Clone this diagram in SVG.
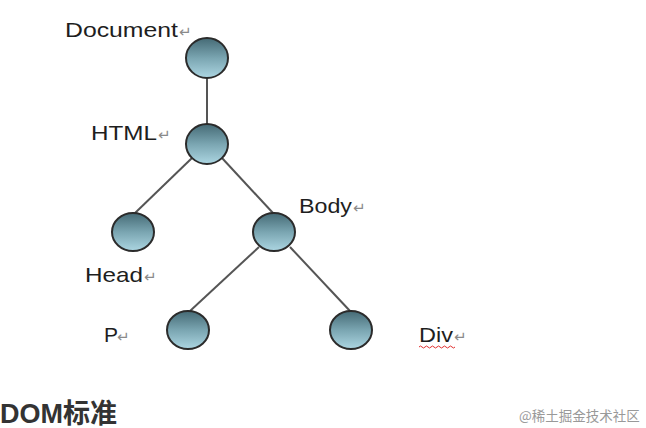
<svg xmlns="http://www.w3.org/2000/svg" width="646" height="428" viewBox="0 0 646 428">
<style>
.lbl{font-family:"Liberation Sans",Arial,sans-serif;font-size:21px;fill:#1e1e1e}
.ret{font-family:"DejaVu Sans",sans-serif;font-size:15px;fill:#8a8a8a}
.node{fill:url(#g);stroke:#2b2b2b;stroke-width:2}
.edge{stroke:#555;stroke-width:2;fill:none}
</style>
<defs>
<linearGradient id="g" x1="0" y1="0" x2="0" y2="1">
<stop offset="0" stop-color="#456a75"/>
<stop offset="0.5" stop-color="#7aa5b1"/>
<stop offset="1" stop-color="#acd6e2"/>
</linearGradient>
</defs>
<rect width="646" height="428" fill="#fff"/>
<g id="connectors">
<line class="edge" x1="207" y1="78" x2="207" y2="124"/>
<line class="edge" x1="192" y1="158" x2="134" y2="214"/>
<line class="edge" x1="222" y1="158" x2="273" y2="213"/>
<line class="edge" x1="259" y1="247" x2="190" y2="311"/>
<line class="edge" x1="290" y1="247" x2="350" y2="311"/>
</g>
<g id="document">
<ellipse class="node" cx="207" cy="58" rx="21" ry="20"/>
<text class="lbl" x="65" y="37" textLength="113" lengthAdjust="spacingAndGlyphs">Document</text><text class="ret" x="179" y="37">↵</text>
</g>
<g id="html">
<ellipse class="node" cx="207" cy="144" rx="21" ry="20"/>
<text class="lbl" x="91" y="140" textLength="66" lengthAdjust="spacingAndGlyphs">HTML</text><text class="ret" x="158" y="140">↵</text>
</g>
<g id="head">
<ellipse class="node" cx="133" cy="232" rx="21" ry="19"/>
<text class="lbl" x="85" y="282" textLength="58" lengthAdjust="spacingAndGlyphs">Head</text><text class="ret" x="144" y="282">↵</text>
</g>
<g id="body">
<ellipse class="node" cx="274" cy="232" rx="21" ry="19"/>
<text class="lbl" x="299" y="213" textLength="53" lengthAdjust="spacingAndGlyphs">Body</text><text class="ret" x="353" y="213">↵</text>
</g>
<g id="p">
<ellipse class="node" cx="188" cy="330" rx="21" ry="19"/>
<text class="lbl" x="104" y="342">P</text><text class="ret" x="117" y="342">↵</text>
</g>
<g id="div">
<ellipse class="node" cx="351" cy="330" rx="21" ry="19"/>
<text class="lbl" x="419" y="342" textLength="34" lengthAdjust="spacingAndGlyphs">Div</text><text class="ret" x="454" y="342">↵</text>
<path d="M419 347 q1.5 -2 3 0 t3 0 t3 0 t3 0 t3 0 t3 0 t3 0 t3 0 t3 0 t3 0 t3 0 t3 0" fill="none" stroke="#e03030" stroke-width="1"/>
</g>
<text x="0" y="423" font-family="'Liberation Sans','Noto Sans CJK SC',sans-serif" font-size="27" font-weight="bold" fill="#333">DOM标准</text>
<text x="519" y="421" font-family="'Noto Sans CJK SC',sans-serif" font-size="13.5" fill="#999">@稀土掘金技术社区</text>
</svg>
